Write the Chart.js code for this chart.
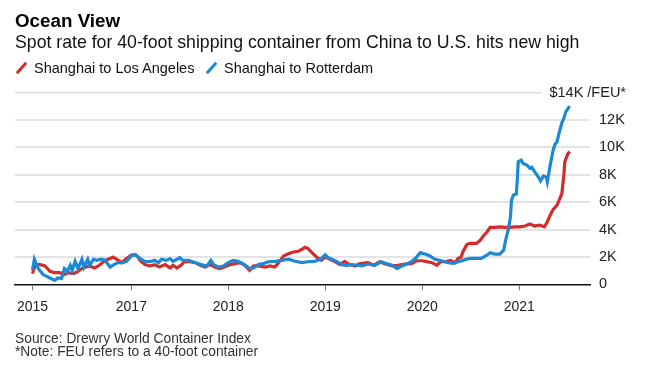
<!DOCTYPE html>
<html>
<head>
<meta charset="utf-8">
<script src="https://cdn.jsdelivr.net/npm/chart.js@4.4.1/dist/chart.umd.min.js"></script>
<style>
  html, body { margin: 0; padding: 0; background: #fff; }
  body { width: 657px; height: 367px; position: relative; overflow: hidden;
         font-family: "Liberation Sans", Arial, sans-serif; color: #000; }
  #chart { position: absolute; left: 0; top: 0; }
  .txt { position: absolute; white-space: nowrap; line-height: 1; }
  #title { left: 15px; top: 12px; font-size: 18.8px; font-weight: bold; }
  #subtitle { left: 15px; top: 34.3px; font-size: 17.7px; color: #111; }
  .leg { top: 61px; font-size: 14.5px; color: #111; }
  .mark { position: absolute; top: 61px; width: 3px; height: 14px; transform: rotate(42deg); }
  .foot { left: 15px; font-size: 13.8px; color: #333; }
</style>
</head>
<body>
<canvas id="chart" width="657" height="367"></canvas>
<div id="title" class="txt">Ocean View</div>
<div id="subtitle" class="txt">Spot rate for 40-foot shipping container from China to U.S. hits new high</div>
<span class="mark" style="left:20px; background:#d42b2b"></span>
<div class="txt leg" style="left:34px">Shanghai to Los Angeles</div>
<span class="mark" style="left:210px; background:#1b8ad6"></span>
<div class="txt leg" style="left:224px">Shanghai to Rotterdam</div>
<div class="txt foot" style="top:331.8px">Source: Drewry World Container Index</div>
<div class="txt foot" style="top:345.2px">*Note: FEU refers to a 40-foot container</div>

<script>
// Drewry WCI, USD per 40-foot container
const laYears = [2015.98, 2016.01, 2016.06, 2016.11, 2016.16, 2016.21, 2016.26, 2016.31, 2016.35, 2016.40,
  2016.44, 2016.49, 2016.53, 2016.57, 2016.62, 2016.67, 2016.73, 2016.78, 2016.81, 2016.85,
  2016.90, 2016.94, 2017.00, 2017.04, 2017.07, 2017.09, 2017.14, 2017.19, 2017.24, 2017.29,
  2017.35, 2017.40, 2017.43, 2017.47, 2017.52, 2017.55, 2017.60, 2017.66, 2017.71, 2017.76,
  2017.81, 2017.86, 2017.91, 2017.96, 2018.02, 2018.07, 2018.12, 2018.17, 2018.22, 2018.26,
  2018.31, 2018.38, 2018.43, 2018.48, 2018.51, 2018.57, 2018.62, 2018.67, 2018.72, 2018.76,
  2018.79, 2018.82, 2018.86, 2018.91, 2018.96, 2019.00, 2019.05, 2019.10, 2019.15, 2019.20,
  2019.25, 2019.31, 2019.36, 2019.44, 2019.50, 2019.56, 2019.62, 2019.69, 2019.75, 2019.82,
  2019.89, 2019.94, 2020.00, 2020.05, 2020.10, 2020.15, 2020.19, 2020.24, 2020.29, 2020.34,
  2020.37, 2020.40, 2020.42, 2020.46, 2020.49, 2020.56, 2020.60, 2020.63, 2020.67, 2020.70,
  2020.75, 2020.80, 2020.85, 2020.91, 2020.95, 2021.01, 2021.06, 2021.11, 2021.16, 2021.21,
  2021.26, 2021.29, 2021.32, 2021.35, 2021.39, 2021.42, 2021.44, 2021.46, 2021.47, 2021.50,
  2021.52];
const laRates = [780, 1440, 1440, 1340, 950, 850, 850, 710, 850, 780,
  900, 1150, 1260, 1340, 1190, 1390, 1750, 1880, 1990, 1830,
  1580, 1830, 2140, 2170, 1990, 1750, 1440, 1340, 1440, 1260,
  1440, 1190, 1390, 1190, 1440, 1680, 1650, 1580, 1390, 1260,
  1440, 1260, 1150, 1260, 1440, 1510, 1580, 1390, 1020, 1340,
  1340, 1260, 1340, 1260, 1510, 2070, 2240, 2360, 2410, 2560,
  2700, 2620, 2340, 1990, 1750, 1990, 1830, 1650, 1440, 1680,
  1440, 1340, 1510, 1580, 1390, 1650, 1480, 1340, 1390, 1480,
  1510, 1720, 1720, 1650, 1580, 1390, 1650, 1650, 1750, 1580,
  1900, 1970, 2380, 2900, 2990, 2990, 3230, 3530, 3840, 4160,
  4160, 4200, 4160, 4160, 4200, 4200, 4260, 4400, 4260, 4330,
  4200, 4570, 5060, 5480, 5790, 6280, 6640, 7970, 8950, 9510,
  9700];

const rotYears = [2015.98, 2016.00, 2016.04, 2016.09, 2016.16, 2016.21, 2016.24, 2016.28, 2016.31, 2016.34,
  2016.37, 2016.39, 2016.42, 2016.45, 2016.49, 2016.51, 2016.55, 2016.57, 2016.61, 2016.64,
  2016.69, 2016.73, 2016.78, 2016.82, 2016.86, 2016.91, 2016.95, 2017.00, 2017.04, 2017.07,
  2017.09, 2017.14, 2017.19, 2017.24, 2017.28, 2017.31, 2017.36, 2017.40, 2017.43, 2017.47,
  2017.50, 2017.53, 2017.59, 2017.66, 2017.72, 2017.78, 2017.82, 2017.85, 2017.90, 2017.95,
  2018.00, 2018.05, 2018.10, 2018.15, 2018.22, 2018.26, 2018.31, 2018.36, 2018.41, 2018.48,
  2018.55, 2018.62, 2018.69, 2018.76, 2018.82, 2018.89, 2018.95, 2019.00, 2019.03, 2019.07,
  2019.12, 2019.17, 2019.22, 2019.27, 2019.34, 2019.38, 2019.44, 2019.51, 2019.58, 2019.63,
  2019.69, 2019.74, 2019.79, 2019.84, 2019.89, 2019.93, 2019.98, 2020.03, 2020.08, 2020.13,
  2020.20, 2020.27, 2020.32, 2020.37, 2020.42, 2020.49, 2020.56, 2020.61, 2020.67, 2020.70,
  2020.75, 2020.80, 2020.84, 2020.86, 2020.89, 2020.91, 2020.92, 2020.94, 2020.97, 2020.98,
  2020.99, 2021.02, 2021.04, 2021.08, 2021.11, 2021.13, 2021.16, 2021.20, 2021.22, 2021.25,
  2021.28, 2021.29, 2021.32, 2021.35, 2021.37, 2021.39, 2021.41, 2021.44, 2021.46, 2021.48,
  2021.52];
const rotRates = [1020, 1830, 1150, 710, 460, 290, 460, 420, 1150, 950,
  1390, 1020, 1680, 1150, 1830, 1260, 1830, 1390, 1830, 1750,
  1830, 1750, 1260, 1440, 1580, 1580, 1680, 2070, 2170, 1990,
  1880, 1680, 1650, 1750, 1580, 1830, 1750, 1880, 1680, 1830,
  1940, 1750, 1750, 1580, 1440, 1340, 1750, 1440, 1260, 1340,
  1580, 1750, 1680, 1510, 1150, 1190, 1440, 1510, 1650, 1680,
  1750, 1830, 1680, 1580, 1650, 1680, 1830, 2140, 1940, 1830,
  1650, 1440, 1390, 1440, 1390, 1340, 1480, 1390, 1650, 1510,
  1390, 1150, 1340, 1480, 1650, 1900, 2310, 2210, 2070, 1830,
  1720, 1580, 1530, 1650, 1750, 1900, 1900, 1900, 2140, 2310,
  2210, 2210, 2500, 3230, 4090, 4940, 6150, 6520, 6590, 7610,
  8950, 9070, 8830, 8710, 8470, 8540, 8220, 7810, 7560, 7910,
  7810, 7490, 8710, 9800, 10240, 10410, 11020, 11800, 12120, 12600,
  13020];

const xTickValues = [2015.98, 2017, 2018, 2019, 2020, 2021];
const xTickLabels = ['2015', '2017', '2018', '2019', '2020', '2021'];
const yTopLabel = '$14K /FEU*';

const RED = '#d42b2b';
const BLUE = '#1b8ad6';
const GRID = '#e4e4e4';

function toPoints(xs, ys) {
    return xs.map((x, i) => ({ x: x, y: ys[i] }));
}

// top gridline stops short of the unit label
const topLabel = {
    id: 'topLabel',
    beforeDatasetsDraw(chart) {
        const { ctx, chartArea, scales } = chart;
        const yy = scales.y.getPixelForValue(14000);
        ctx.save();
        ctx.font = '14.5px "Liberation Sans", Arial, sans-serif';
        const w = ctx.measureText(yTopLabel).width;
        const right = 626;
        ctx.strokeStyle = GRID;
        ctx.lineWidth = 2;
        ctx.beginPath();
        ctx.moveTo(chartArea.left, yy);
        ctx.lineTo(right - w - 8, yy);
        ctx.stroke();
        ctx.fillStyle = '#222';
        ctx.textAlign = 'right';
        ctx.textBaseline = 'alphabetic';
        ctx.fillText(yTopLabel, right, yy + 4.5);
        ctx.restore();
    }
};

new Chart(document.getElementById('chart'), {
    type: 'line',
    data: {
        datasets: [{
            label: 'Shanghai to Los Angeles',
            data: toPoints(laYears, laRates),
            borderColor: RED,
            borderWidth: 3.2,
            pointRadius: 0,
            tension: 0,
            order: 1
        }, {
            label: 'Shanghai to Rotterdam',
            data: toPoints(rotYears, rotRates),
            borderColor: BLUE,
            borderWidth: 3.2,
            pointRadius: 0,
            tension: 0,
            order: 0
        }]
    },
    options: {
        responsive: false,
        animation: false,
        layout: { padding: { top: 92.7, left: 15, right: 0, bottom: 0 } },
        plugins: {
            legend: { display: false },
            tooltip: { enabled: false }
        },
        scales: {
            x: {
                type: 'linear',
                min: 2015.80,
                max: 2021.73,
                afterFit: s => { s.height = 82.7; },
                afterBuildTicks: s => { s.ticks = xTickValues.map(v => ({ value: v })); },
                grid: { drawOnChartArea: false, drawTicks: true, tickLength: 6, color: '#777', lineWidth: 1 },
                border: { display: true, color: '#111', width: 1.6 },
                ticks: {
                    autoSkip: false,
                    maxRotation: 0,
                    padding: 8,
                    color: '#222',
                    font: { family: '"Liberation Sans", Arial, sans-serif', size: 14 },
                    callback: (v, i) => xTickLabels[i]
                }
            },
            y: {
                position: 'right',
                min: 0,
                max: 14000,
                afterFit: s => { s.width = 67; },
                grid: {
                    drawTicks: false,
                    lineWidth: 2,
                    color: c => (c.tick.value === 0 || c.tick.value === 14000) ? 'rgba(0,0,0,0)' : GRID
                },
                border: { display: false },
                ticks: {
                    stepSize: 2000,
                    padding: 9,
                    color: '#222',
                    font: { family: '"Liberation Sans", Arial, sans-serif', size: 14.5 },
                    callback: v => v === 14000 ? '' : (v === 0 ? '0' : (v / 1000) + 'K')
                }
            }
        }
    },
    plugins: [topLabel]
});
</script>
</body>
</html>
